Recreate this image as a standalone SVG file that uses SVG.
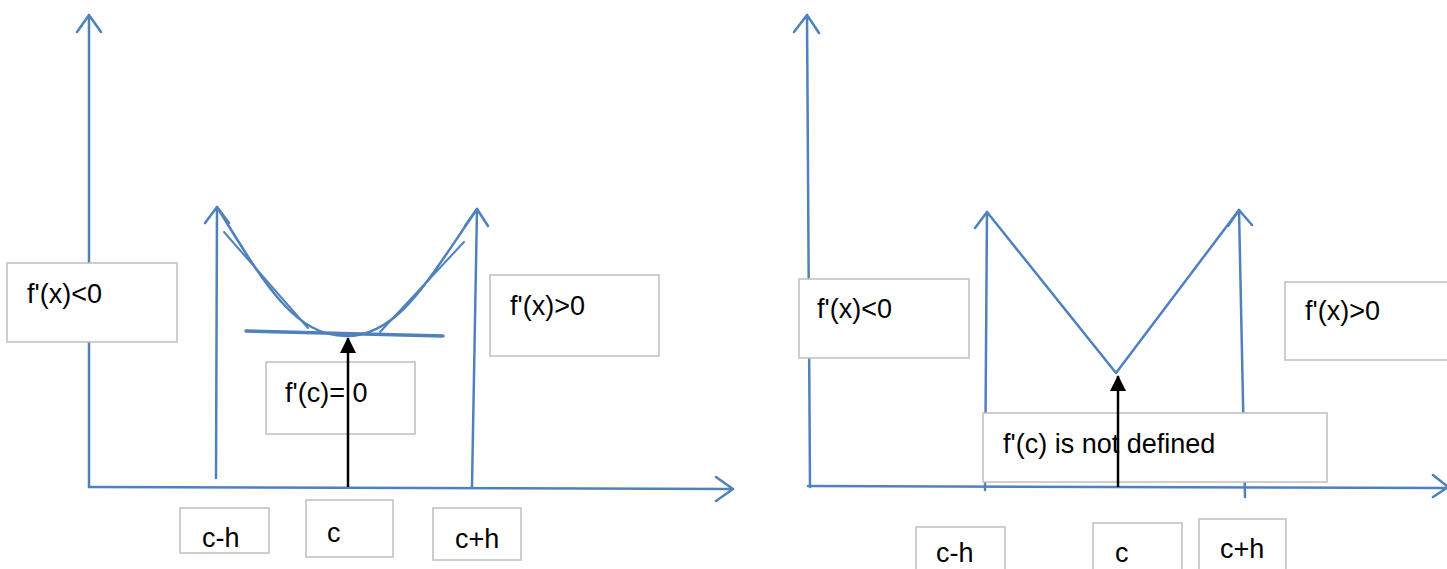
<svg xmlns="http://www.w3.org/2000/svg" width="1447" height="569" viewBox="0 0 1447 569">
<style>
.ax{fill:none;stroke:#4f81bd;stroke-width:2.5;stroke-linecap:round;stroke-linejoin:round}
.tan{fill:none;stroke:#4f81bd;stroke-width:2;stroke-linecap:round}
.box{fill:#fff;stroke:#bfbfbf;stroke-width:1.5}
.lbl{font-family:"Liberation Sans",Arial,sans-serif;font-size:27px;fill:#000}
.blk{stroke:#000;stroke-width:2.5;fill:none}
</style>
<defs>
<marker id="ah" viewBox="0 0 16 16" refX="15" refY="8" markerWidth="16" markerHeight="16" markerUnits="userSpaceOnUse" orient="auto">
<path d="M16,8 L0,0 L0,16 Z" fill="#000"/>
</marker>
</defs>
<g id="connectors">
<path class="ax" d="M89,487 L89,15 M77,32 L89,15 L101,32"/>
<path class="ax" d="M89,487 L733,489 M716,477 L733,489 L716,501"/>
<path class="ax" d="M216,478 L217,207 M205,223 L217,207 L229,223"/>
<path class="ax" d="M472,487 L477,209 M465,226 L477,209 L488,226"/>
<path class="ax" d="M217,207 C265,285 295,336 346,336 C397,336 425,285 477,209"/>
<path class="tan" d="M224,232 L308,328 M380,332 L464,242"/>
<path d="M246,331 L443,336" stroke="#4f81bd" stroke-width="3.5" stroke-linecap="round" fill="none"/>
<path class="ax" d="M810,487 L807,15 M794,32 L807,15 L819,33"/>
<path class="ax" d="M808,486 L1447,488 M1433,475 L1448,487 L1433,497"/>
<path class="ax" d="M985,490 L987,212 M975,228 L987,212"/>
<path class="ax" d="M1245,497 L1239,210 M1228,226 L1239,210 L1252,225"/>
<path class="ax" d="M987,212 L1116,373 L1239,210"/>
</g>
<g id="box-fxlt0-left"><rect class="box" x="7" y="263" width="170" height="79"/><text class="lbl" x="27" y="303">f'(x)&lt;0</text></g>
<g id="box-fxgt0-left"><rect class="box" x="490" y="275" width="169" height="81"/><text class="lbl" x="510" y="315">f'(x)&gt;0</text></g>
<g id="box-fc0"><rect class="box" x="266" y="362" width="149" height="72"/><text class="lbl" x="285" y="402">f'(c)= 0</text></g>
<g id="box-ch-left"><rect class="box" x="180" y="508" width="89" height="45"/><text class="lbl" x="202" y="547">c-h</text></g>
<g id="box-c-left"><rect class="box" x="306" y="500" width="87" height="57"/><text class="lbl" x="327" y="542">c</text></g>
<g id="box-cph-left"><rect class="box" x="433" y="508" width="88" height="52"/><text class="lbl" x="455" y="548">c+h</text></g>
<g id="box-fxlt0-right"><rect class="box" x="799" y="279" width="170" height="79"/><text class="lbl" x="817" y="318">f'(x)&lt;0</text></g>
<g id="box-fxgt0-right"><rect class="box" x="1285" y="282" width="170" height="78"/><text class="lbl" x="1305" y="320">f'(x)&gt;0</text></g>
<g id="box-notdef"><rect class="box" x="983" y="413" width="344" height="69"/><text class="lbl" x="1003" y="453">f'(c) is not defined</text></g>
<g id="box-ch-right"><rect class="box" x="916" y="527" width="89" height="50"/><text class="lbl" x="936" y="562">c-h</text></g>
<g id="box-c-right"><rect class="box" x="1093" y="523" width="89" height="54"/><text class="lbl" x="1115" y="562">c</text></g>
<g id="box-cph-right"><rect class="box" x="1199" y="519" width="87" height="58"/><text class="lbl" x="1220" y="558">c+h</text></g>
<g id="black-arrows">
<path class="blk" d="M348,487 L348,338" marker-end="url(#ah)"/>
<path class="blk" d="M1118,487 L1118,376" marker-end="url(#ah)"/>
</g>
</svg>
